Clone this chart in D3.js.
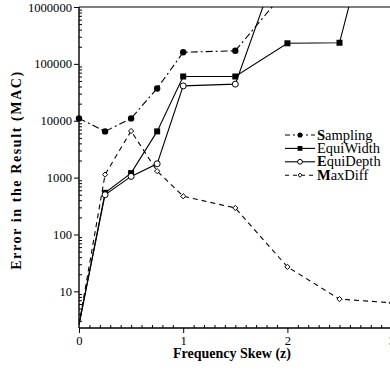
<!DOCTYPE html>
<html>
<head>
<meta charset="utf-8">
<script src="https://cdn.jsdelivr.net/npm/d3@7"></script>
<style>
  body { margin: 0; background: #fff; }
  text { font-family: "Liberation Serif", "Times New Roman", serif; fill: #000; }
</style>
</head>
<body>
<svg id="chart" width="390" height="376"></svg>
<script>
// Data (values above 1e6 run off the top and are clipped)
const skew = [0, 0.25, 0.5, 0.75, 1, 1.5, 2, 2.5, 3];
const sampling = [11000, 6500, 11000, 37000, 160000, 170000, 2100000];
const equiWidth = [2.6, 540, 1200, 6500, 60000, 60000, 230000, 235000, 800000000];
const equiDepth = [2.6, 500, 1050, 1750, 41000, 44000, 16000000];
const maxDiff = [2.6, 1130, 6600, 1300, 470, 293, 27, 7.3, 6.3];

const yTickValues = [10, 100, 1000, 10000, 100000, 1000000];
const xTickValues = [0, 1, 2, 3];

const series = [
  { name: 'Sampling', bold: 'S', rest: 'ampling', values: sampling, dash: '7,3,2,3', marker: 'dot', first: true },
  { name: 'EquiWidth', bold: '', rest: 'EquiWidth', values: equiWidth, dash: null, marker: 'square', first: false },
  { name: 'EquiDepth', bold: 'E', rest: 'quiDepth', values: equiDepth, dash: null, marker: 'circle', first: false },
  { name: 'MaxDiff', bold: 'M', rest: 'axDiff', values: maxDiff, dash: '5,4', marker: 'diamond', first: false }
];

const svg = d3.select('#chart');
const plotLeft = 79, plotTop = 7, plotBottom = 328;

const x = d3.scaleLinear().domain([0, 3]).range([plotLeft, plotLeft + 3 * 104.2]);
const y = d3.scaleLog().domain([2.27, 1000000]).range([plotBottom, plotTop]);

// clip for lines leaving the frame
svg.append('defs').append('clipPath').attr('id', 'plot-clip')
  .append('rect').attr('x', plotLeft).attr('y', plotTop).attr('width', 400).attr('height', plotBottom - plotTop);

// Axes: major ticks outward, minor ticks inward
const yMinor = [];
for (let e = 0; e < 6; e++) {
  for (let k = 2; k < 10; k++) {
    const v = k * Math.pow(10, e);
    if (v > 2.27 && v <= 1000000) yMinor.push(v);
  }
}
svg.append('g')
  .attr('transform', `translate(${plotLeft},0)`)
  .call(d3.axisRight(y).tickValues(yMinor).tickSize(3).tickFormat(''))
  .call(g => g.select('.domain').remove());

svg.append('g')
  .attr('transform', `translate(${plotLeft},0)`)
  .call(d3.axisLeft(y).tickValues(yTickValues).tickSize(5).tickPadding(2).tickFormat(d3.format('d')))
  .call(g => g.select('.domain').attr('d', `M0,${plotTop}V${plotBottom}`).attr('stroke-width', 1.4))
  .call(g => g.selectAll('text').style('font-size', '12.6px'));

const xMinor = d3.range(1, 31).map(i => i / 10).filter(v => Math.abs(v - Math.round(v)) > 1e-6);
svg.append('g')
  .attr('transform', `translate(0,${plotBottom})`)
  .call(d3.axisTop(x).tickValues(xMinor).tickSize(3).tickFormat(''))
  .call(g => g.select('.domain').remove());

svg.append('g')
  .attr('transform', `translate(0,${plotBottom})`)
  .call(d3.axisBottom(x).tickValues(xTickValues).tickSize(5).tickPadding(3).tickFormat(d3.format('d')))
  .call(g => g.select('.domain').attr('d', `M${plotLeft},0H392`).attr('stroke-width', 1.4))
  .call(g => g.selectAll('text').style('font-size', '12.6px'));

// top frame line
svg.append('line')
  .attr('x1', plotLeft).attr('x2', 392).attr('y1', plotTop).attr('y2', plotTop)
  .attr('stroke', '#000').attr('stroke-width', 1.2);

// Lines
const line = d3.line()
  .x((d, i) => x(skew[i]))
  .y(d => y(d));

const plot = svg.append('g').attr('clip-path', 'url(#plot-clip)');

series.forEach(s => {
  plot.append('path')
    .datum(s.values)
    .attr('fill', 'none')
    .attr('stroke', '#000')
    .attr('stroke-width', 1.1)
    .attr('stroke-dasharray', s.dash)
    .attr('d', line);
});

const drawMarker = (g, kind, cx, cy, scale) => {
  if (kind === 'dot') {
    g.append('circle').attr('cx', cx).attr('cy', cy).attr('r', 3.2 * scale).attr('fill', '#000');
  } else if (kind === 'square') {
    const h = 3 * scale;
    g.append('rect').attr('x', cx - h).attr('y', cy - h).attr('width', 2 * h).attr('height', 2 * h).attr('fill', '#000');
  } else if (kind === 'circle') {
    g.append('circle').attr('cx', cx).attr('cy', cy).attr('r', 3 * scale)
      .attr('fill', '#fff').attr('stroke', '#000').attr('stroke-width', 1);
  } else {
    const h = 2.6 * scale;
    g.append('path').attr('d', `M${cx},${cy - h}L${cx + h},${cy}L${cx},${cy + h}L${cx - h},${cy}Z`)
      .attr('fill', '#fff').attr('stroke', '#000').attr('stroke-width', 1);
  }
};

series.forEach(s => {
  const g = svg.append('g');
  s.values.forEach((v, i) => {
    if (v <= 1000000 && (i > 0 || s.first)) drawMarker(g, s.marker, x(skew[i]), y(v), 1);
  });
});

// Legend
const legend = svg.append('g');
series.forEach((s, i) => {
  const ly = 135 + i * 13.4;
  legend.append('line')
    .attr('x1', 285).attr('x2', 315).attr('y1', ly).attr('y2', ly)
    .attr('stroke', '#000').attr('stroke-width', 1.1)
    .attr('stroke-dasharray', s.dash ? (s.marker === 'dot' ? '5,3,2,3' : '4,4') : null);
  drawMarker(legend, s.marker, 300, ly, 0.8);
  const t = legend.append('text')
    .attr('x', 317).attr('y', ly + 4.5)
    .style('font-size', '14.5px');
  if (s.bold) t.append('tspan').style('font-weight', 'bold').text(s.bold);
  t.append('tspan').text(s.rest);
});

// Axis titles
svg.append('text')
  .attr('x', 232).attr('y', 358)
  .attr('text-anchor', 'middle')
  .style('font-size', '14px')
  .style('font-weight', 'bold')
  .text('Frequency Skew (z)');

svg.append('text')
  .attr('transform', 'translate(21,170) rotate(-90)')
  .attr('text-anchor', 'middle')
  .style('font-size', '14px')
  .style('font-weight', 'bold')
  .style('letter-spacing', '1.6px')
  .text('Error in the Result (MAC)');
</script>
</body>
</html>
